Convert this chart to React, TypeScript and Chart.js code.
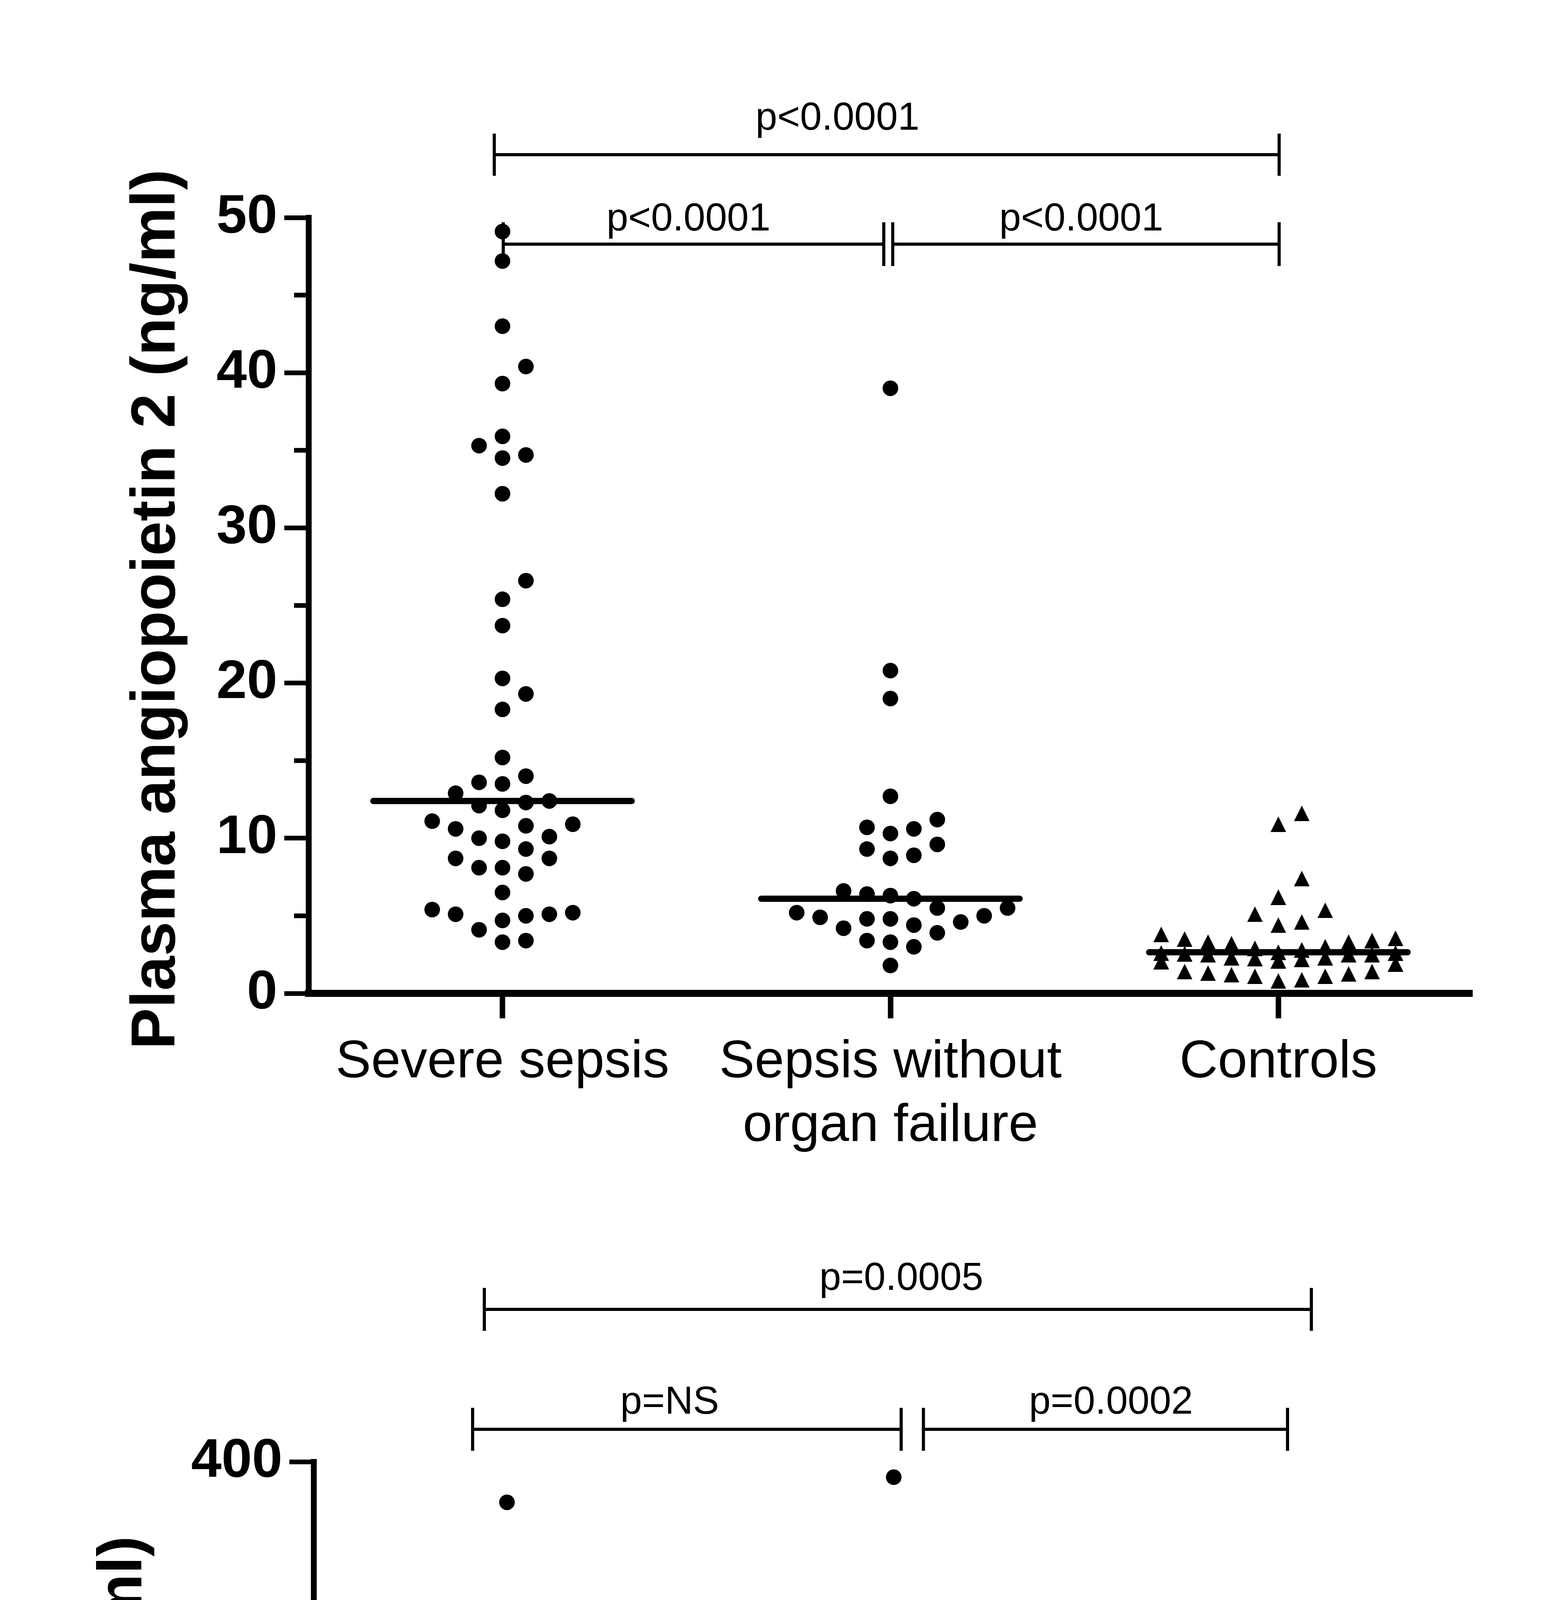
import { useEffect, useRef } from 'react';
import { Chart, registerables } from 'chart.js';

Chart.register(...registerables);

const FONT = '"Liberation Sans", Arial, Helvetica, sans-serif';

// x axis groups
const groupLabels: (string | string[])[] = ['Severe sepsis', ['Sepsis without', 'organ failure'], 'Controls'];

// top panel: plasma angiopoietin 2 (ng/ml)
const angSevere = [49.1, 47.2, 43.0, 40.4, 39.3, 35.9, 35.3, 34.7, 34.5, 32.2, 26.6, 25.4, 23.7, 20.3, 19.3, 18.3,
  15.2, 14.0, 13.6, 13.5, 12.9, 12.4, 12.3, 12.1, 11.8, 11.1, 10.9, 10.8, 10.6, 10.1, 10.0, 9.8, 9.3, 8.7, 8.7,
  8.1, 8.1, 7.7, 6.5, 5.4, 5.2, 5.1, 5.1, 5.0, 4.7, 4.1, 3.4, 3.3];
const angSepsis = [39.0, 20.8, 19.0, 12.7, 11.2, 10.7, 10.6, 10.3, 9.6, 9.3, 8.9, 8.7, 6.6, 6.4, 6.3, 6.1, 5.5,
  5.5, 5.2, 5.0, 4.9, 4.8, 4.8, 4.6, 4.4, 4.2, 3.9, 3.4, 3.3, 3.0, 1.8];
const angControls = [11.6, 10.9, 7.4, 6.2, 5.35, 5.1, 4.6, 4.4, 3.8, 3.55, 3.5, 3.4, 3.3, 3.3, 3.2, 3.0, 2.9, 2.8,
  2.65, 2.6, 2.6, 2.55, 2.5, 2.5, 2.5, 2.3, 2.3, 2.25, 2.2, 2.1, 2.05, 1.9, 1.4, 1.4, 1.3, 1.25, 1.2, 1.1, 1.1,
  0.87, 0.8];
const angMedians = [12.4, 6.1, 2.65];
const angPLabels = ['p<0.0001', 'p<0.0001', 'p<0.0001'];
const angPairs = [[0, 2], [0, 1], [1, 2]];

// bottom panel: plasma VEGF (pg/ml)
const vegfSevere = [379, 301, 295, 230, 221, 159, 145, 142, 141, 135, 129, 127, 124, 123, 118, 116, 106, 101, 99,
  98, 97, 94, 94, 90, 86, 78, 77, 76, 75, 71, 62, 55, 45, 34, 15, 15, 15, 15, 15, 15, 15, 15, 15, 15];
const vegfSepsis = [392, 275, 227, 208, 172, 160, 147, 121, 119, 110, 108, 104, 93, 93, 80, 76, 70, 69, 65, 65,
  59, 57, 57, 49, 49, 46, 45, 42, 30, 14];
const vegfControls = [302, 180, 129, 99, 99, 80, 79, 78, 75, 73, 67, 66, 64, 59, 55, 55, 52, 52, 51, 51, 48, 46,
  45, 43, 42, 38, 35, 35, 32, 31, 26, 26, 25, 14, 14, 14, 14, 14, 14, 14];
const vegfMedians = [98, 80, 52];
const vegfPLabels = ['p=0.0005', 'p=NS', 'p=0.0002'];
const vegfPairs = [[0, 2], [0, 1], [1, 2]];

const CANVAS_W = 3951;

const topLayout = {
  height: 3100,
  padding: { top: 557, bottom: 57, left: 290, right: 181 },
  yWidth: 500,
  xHeight: 500,
  xPad: 32,
  titleX: 403,
  titleDy: 10,
  brackets: [
    { y: -161, l: -21, r: 2, cap: 54, gap: 64, dx: -126 },
    { y: 68, l: 2, r: -17, cap: 56, gap: 35, dx: -13 },
    { y: 68, l: 6, r: 2, cap: 56, gap: 35, dx: -12 },
  ],
};

const bottomLayout = {
  height: 3353,
  padding: { top: 642, bottom: 231, left: 203, right: 177 },
  yWidth: 600,
  xHeight: 500,
  xPad: 10,
  titleX: 318,
  titleDy: 4,
  brackets: [
    { y: -390, l: -58, r: 79, cap: 55, gap: 50, dx: 9 },
    { y: -83, l: -88, r: 19, cap: 55, gap: 40, dx: -44 },
    { y: -83, l: 76, r: 18, cap: 55, gap: 40, dx: 14 },
  ],
};

// scatter-dot layout: lowest values first, each point goes to the column nearest
// the centre (right side tried first) that keeps it clear of that column's points;
// the spread is capped, so crowded groups overlap like in Prism
function swarmColumns(values: number[], minGap: number, maxCol: number) {
  const order = values.map((_, i) => i).sort((a, b) => values[a] - values[b]);
  const placed = new Map<number, number[]>();
  const cols = new Array(values.length).fill(0);
  for (const i of order) {
    const v = values[i];
    let best = 0;
    let bestClear = -1;
    for (let k = 0; k <= maxCol * 2; k++) {
      const c = k === 0 ? 0 : k % 2 === 1 ? (k + 1) / 2 : -k / 2;
      const used = placed.get(c) ?? [];
      const clear = used.reduce((m, u) => Math.min(m, Math.abs(u - v)), Infinity);
      if (clear >= minGap) {
        best = c;
        break;
      }
      if (clear > bestClear) {
        bestClear = clear;
        best = c;
      }
    }
    const used = placed.get(best) ?? [];
    used.push(v);
    placed.set(best, used);
    cols[i] = best;
  }
  return cols;
}

function makeTriangle() {
  const c = document.createElement('canvas');
  c.width = 40;
  c.height = 40;
  const g = c.getContext('2d')!;
  g.fillStyle = '#000';
  g.beginPath();
  g.moveTo(20, 0);
  g.lineTo(40, 40);
  g.lineTo(0, 40);
  g.closePath();
  g.fill();
  return c;
}

type PanelProps = {
  groups: number[][];
  medians: number[];
  yMax: number;
  yStep: number;
  minorStep?: number;
  title: string;
  pLabels: string[];
  pairs: number[][];
  layout: typeof topLayout;
};

function DotPlot({ groups, medians, yMax, yStep, minorStep, title, pLabels, pairs, layout }: PanelProps) {
  const chartRef = useRef<HTMLCanvasElement>(null);
  const chartInstance = useRef<Chart | null>(null);

  useEffect(() => {
    if (!chartRef.current) return;
    if (chartInstance.current) chartInstance.current.destroy();

    const pad = layout.padding;
    const plotW = CANVAS_W - pad.left - pad.right - layout.yWidth;
    const plotH = layout.height - pad.top - pad.bottom - layout.xHeight;
    const step = 60 / (plotW / 3);
    const minGap = (52 * yMax) / plotH;
    const triangle = makeTriangle();

    const datasets: any[] = [];
    medians.forEach((m, g) => {
      datasets.push({
        type: 'line',
        data: [{ x: g + 1 - 0.333, y: m }, { x: g + 1 + 0.333, y: m }],
        borderColor: '#000',
        borderWidth: 16,
        borderCapStyle: 'round',
        pointRadius: 0,
        clip: false,
        order: 0,
      });
    });
    groups.forEach((values, g) => {
      const cols = swarmColumns(values, minGap, 5);
      datasets.push({
        type: 'scatter',
        data: values.map((v, i) => ({ x: g + 1 + cols[i] * step, y: v })),
        pointStyle: g === 2 ? triangle : 'circle',
        pointRadius: 20,
        pointBackgroundColor: '#000',
        pointBorderWidth: 0,
        clip: false,
        order: 1,
      });
    });

    const annotations = {
      id: 'annotations',
      afterDraw(chart: Chart) {
        const { ctx, chartArea } = chart;
        const xs = chart.scales.x;
        const ys = chart.scales.y;
        ctx.save();
        ctx.fillStyle = '#000';
        ctx.strokeStyle = '#000';

        // short minor ticks on the y axis
        if (minorStep) {
          ctx.lineWidth = 12;
          ctx.beginPath();
          for (let v = minorStep; v < yMax; v += yStep) {
            const py = ys.getPixelForValue(v);
            ctx.moveTo(chartArea.left - 37, py);
            ctx.lineTo(chartArea.left - 7, py);
          }
          ctx.stroke();
        }

        // y axis title
        ctx.save();
        ctx.translate(layout.titleX, (chartArea.top + chartArea.bottom) / 2 + layout.titleDy);
        ctx.rotate(-Math.PI / 2);
        ctx.font = `bold 159px ${FONT}`;
        ctx.textAlign = 'center';
        ctx.textBaseline = 'middle';
        ctx.fillText(title, 0, 0);
        ctx.restore();

        // significance brackets
        ctx.font = `100px ${FONT}`;
        ctx.textAlign = 'center';
        ctx.textBaseline = 'alphabetic';
        ctx.lineWidth = 8;
        pairs.forEach(([a, b], i) => {
          const geo = layout.brackets[i];
          const x0 = xs.getPixelForValue(a + 1) + geo.l;
          const x1 = xs.getPixelForValue(b + 1) + geo.r;
          const yy = chartArea.top + geo.y;
          ctx.beginPath();
          ctx.moveTo(x0, yy);
          ctx.lineTo(x1, yy);
          ctx.moveTo(x0, yy - geo.cap);
          ctx.lineTo(x0, yy + geo.cap);
          ctx.moveTo(x1, yy - geo.cap);
          ctx.lineTo(x1, yy + geo.cap);
          ctx.stroke();
          ctx.fillText(pLabels[i], (x0 + x1) / 2 + geo.dx, yy - geo.gap);
        });
        ctx.restore();
      },
    };

    chartInstance.current = new Chart(chartRef.current, {
      type: 'scatter',
      data: { datasets },
      options: {
        animation: false,
        responsive: false,
        devicePixelRatio: 1,
        events: [],
        layout: { padding: pad },
        plugins: { legend: { display: false }, tooltip: { enabled: false } },
        scales: {
          x: {
            type: 'linear',
            min: 0.5,
            max: 3.5,
            afterBuildTicks: (s: any) => {
              s.ticks = [1, 2, 3].map((value) => ({ value }));
            },
            afterFit: (s: any) => {
              s.height = layout.xHeight;
            },
            grid: { drawOnChartArea: false, tickLength: 64, tickWidth: 14, tickColor: '#000' },
            border: { display: true, color: '#000', width: 18 },
            ticks: {
              color: '#000',
              font: { family: FONT, size: 136 },
              padding: layout.xPad,
              maxRotation: 0,
              minRotation: 0,
              autoSkip: false,
              callback: (v: any) => groupLabels[Math.round(Number(v)) - 1],
            },
          },
          y: {
            type: 'linear',
            min: 0,
            max: yMax,
            afterFit: (s: any) => {
              s.width = layout.yWidth;
            },
            grid: { drawOnChartArea: false, tickLength: 62, tickWidth: 12, tickColor: '#000' },
            border: { display: true, color: '#000', width: 15 },
            ticks: {
              stepSize: yStep,
              color: '#000',
              font: { family: FONT, size: 140, weight: 'bold' },
              padding: 18,
            },
          },
        },
      },
      plugins: [annotations],
    } as any);

    return () => {
      if (chartInstance.current) {
        chartInstance.current.destroy();
        chartInstance.current = null;
      }
    };
  }, [groups, medians, yMax, yStep, minorStep, title, pLabels, pairs, layout]);

  return <canvas ref={chartRef} width={CANVAS_W} height={layout.height} style={{ display: 'block' }} />;
}

const angGroups = [angSevere, angSepsis, angControls];
const vegfGroups = [vegfSevere, vegfSepsis, vegfControls];

export default function App() {
  return (
    <div style={{ position: 'absolute', left: 0, top: 0, width: CANVAS_W, height: 6453, background: '#fff' }}>
      <div style={{ position: 'absolute', left: 0, top: 0 }}>
        <DotPlot
          groups={angGroups}
          medians={angMedians}
          yMax={50}
          yStep={10}
          minorStep={5}
          title="Plasma angiopoietin 2 (ng/ml)"
          pLabels={angPLabels}
          pairs={angPairs}
          layout={topLayout}
        />
      </div>
      <div style={{ position: 'absolute', left: 0, top: topLayout.height }}>
        <DotPlot
          groups={vegfGroups}
          medians={vegfMedians}
          yMax={400}
          yStep={100}
          title="Plasma VEGF (pg/ml)"
          pLabels={vegfPLabels}
          pairs={vegfPairs}
          layout={bottomLayout}
        />
      </div>
    </div>
  );
}
